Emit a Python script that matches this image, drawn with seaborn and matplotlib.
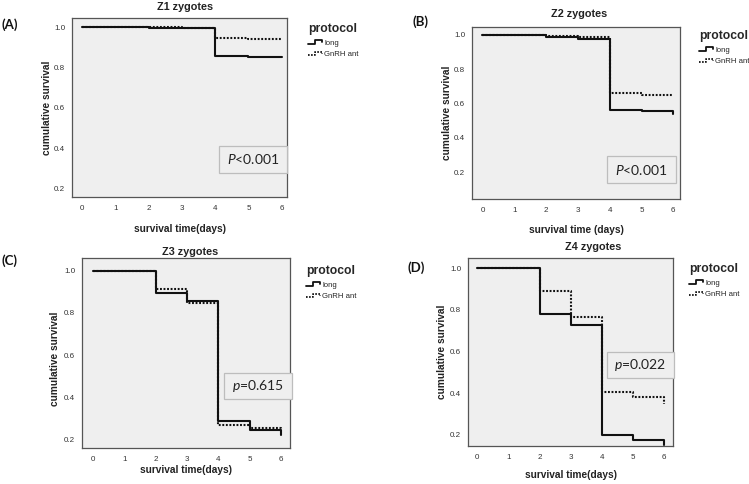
import numpy as np
import pandas as pd
import matplotlib
matplotlib.use("Agg")
import matplotlib.pyplot as plt
import seaborn as sns
from matplotlib.legend_handler import HandlerBase
from matplotlib.lines import Line2D
from matplotlib.patches import Rectangle

# ---------------- data ----------------
times = [0, 2, 3, 4, 5, 6]
protocols = ["long", "GnRH ant"]

z1_long = [1.0, 0.998, 0.996, 0.856, 0.853, 0.852]
z1_gnrh = [1.0, 0.999, 0.998, 0.947, 0.944, 0.943]
z2_long = [1.0, 0.985, 0.977, 0.560, 0.554, 0.538]
z2_gnrh = [1.0, 0.994, 0.985, 0.663, 0.651, 0.650]
z3_long = [1.0, 0.895, 0.854, 0.286, 0.245, 0.222]
z3_gnrh = [1.0, 0.914, 0.848, 0.269, 0.256, 0.250]
z4_long = [1.0, 0.780, 0.728, 0.201, 0.176, 0.150]
z4_gnrh = [1.0, 0.891, 0.765, 0.407, 0.381, 0.349]

panel_titles = ["Z1 zygotes", "Z2 zygotes", "Z3 zygotes", "Z4 zygotes"]
panel_letters = ["(A)", "(B)", "(C)", "(D)"]
p_letters = ["P", "P", "p", "p"]
p_values = ["<0.001", "<0.001", "=0.615", "=0.022"]
x_labels = ["survival time(days)", "survival time (days)",
            "survival time(days)", "survival time(days)"]
y_label = "cumulative survival"
x_ticks = [0, 1, 2, 3, 4, 5, 6]
y_ticks = [0.2, 0.4, 0.6, 0.8, 1.0]
y_tick_labels = ["0.2", "0.4", "0.6", "0.8", "1.0"]

series = [(z1_long, z1_gnrh), (z2_long, z2_gnrh),
          (z3_long, z3_gnrh), (z4_long, z4_gnrh)]

# ---------------- layout (pixels) ----------------
W, H = 749, 484
axes_px = [(72, 18, 287, 197), (472, 27, 680, 199),
           (82, 258, 290, 448), (468, 258, 673, 446)]
xlims = [(-0.31, 6.16), (-0.33, 6.21), (-0.35, 6.28), (-0.30, 6.29)]
ylims = [(0.157, 1.046), (0.045, 1.044), (0.16, 1.06), (0.147, 1.048)]
title_px = [(185, 7), (579, 14), (190, 252), (593, 247)]
letter_px = [(1, 25), (412, 22), (2, 261), (408, 268)]
legend_px = [(308, 23), (699, 30), (306, 265), (689, 263)]
pbox_px = [(219, 146, 287, 173), (607, 156, 676, 183),
           (224, 373, 292, 399), (607, 352, 674, 378)]
ylabel_pos = [(-0.118, 0.5), (-0.122, 0.5), (-0.128, 0.47), (-0.128, 0.5)]
xlabel_pos = [(0.5, -0.179), (0.5, -0.18), (0.5, -0.116), (0.5, -0.154)]

sns.set_style("white")
plt.rcParams["font.family"] = ["Liberation Sans", "DejaVu Sans"]
plt.rcParams["mathtext.fontset"] = "custom"
plt.rcParams["mathtext.it"] = "Lato:italic"
plt.rcParams["mathtext.rm"] = "Lato"

LINE_C = "#111111"
BG = "#efefef"


class StepHandler(HandlerBase):
    def create_artists(self, legend, orig_handle, xdescent, ydescent,
                       width, height, fontsize, trans):
        fx = np.array([0.0, 0.45, 0.45, 0.88, 0.88])
        fy = np.array([0.2, 0.2, 0.85, 0.85, 0.45])
        line = Line2D(fx * width - xdescent, fy * height - ydescent)
        self.update_prop(line, orig_handle, legend)
        line.set_transform(trans)
        return [line]


fig = plt.figure(figsize=(W / 100, H / 100), dpi=100)
fig.patch.set_facecolor("white")


def fxy(x, y):
    return x / W, 1 - y / H


for i in range(4):
    l, t, r, b = axes_px[i]
    ax = fig.add_axes([l / W, 1 - b / H, (r - l) / W, (b - t) / H])
    ax.set_facecolor(BG)
    lv, gv = series[i]
    df = pd.DataFrame({
        "time": times + times,
        "survival": lv + gv,
        "protocol": [protocols[0]] * len(times) + [protocols[1]] * len(times),
    })
    sns.lineplot(data=df, x="time", y="survival", hue="protocol",
                 style="protocol", hue_order=protocols, style_order=protocols,
                 palette={protocols[0]: LINE_C, protocols[1]: LINE_C},
                 dashes={protocols[0]: "", protocols[1]: (0.9, 0.8)},
                 drawstyle="steps-post", estimator=None, legend=False,
                 linewidth=1.5, ax=ax)
    ax.set_xlim(*xlims[i])
    ax.set_ylim(*ylims[i])
    ax.set_xticks(x_ticks)
    ax.set_xticklabels([str(v) for v in x_ticks])
    ax.set_yticks(y_ticks)
    ax.set_yticklabels(y_tick_labels)
    ax.tick_params(direction="out", length=3, width=0.8, colors="#444444",
                   labelsize=5.8, labelcolor="#333333", pad=2)
    ax.tick_params(axis="x", pad=3)
    for s in ax.spines.values():
        s.set_color("#555555")
        s.set_linewidth(0.9)
    ax.set_xlabel(x_labels[i], fontsize=7.3, fontweight="bold", color="#222222")
    ax.set_ylabel(y_label, fontsize=7.3, fontweight="bold", color="#222222")
    ax.xaxis.set_label_coords(*xlabel_pos[i])
    ax.yaxis.set_label_coords(*ylabel_pos[i])
    ax.xaxis.label.set_verticalalignment("center")
    ax.yaxis.label.set_verticalalignment("center")

    # title and panel letter
    tx, ty = fxy(*title_px[i])
    fig.text(tx, ty, panel_titles[i], ha="center", va="center",
             fontsize=7.8, fontweight="bold", color="#222222")
    lx, ly = fxy(*letter_px[i])
    fig.text(lx, ly, panel_letters[i], ha="left", va="center",
             fontsize=9.5, fontweight="bold", color="#111111", family="Lato")

    # legend
    handles = [Line2D([], [], color=LINE_C, linewidth=1.3, linestyle="-"),
               Line2D([], [], color=LINE_C, linewidth=1.3,
                      linestyle=(0, (0.9, 0.8)))]
    gx, gy = fxy(*legend_px[i])
    ax.legend(handles, protocols, handler_map={Line2D: StepHandler()},
              title="protocol", loc="upper left", bbox_to_anchor=(gx, gy),
              bbox_transform=fig.transFigure, frameon=False,
              prop={"family": "Liberation Sans", "size": 5.6},
              title_fontproperties={"family": "Liberation Sans",
                                    "weight": "bold", "size": 8.7},
              alignment="left", handlelength=2.0, handletextpad=0.1,
              borderpad=0, borderaxespad=0, labelspacing=0.55)

    # p-value box
    x0, y0, x1, y1 = pbox_px[i]
    fx0, fy1 = fxy(x0, y1)
    rect = Rectangle((fx0, fy1), (x1 - x0) / W, (y1 - y0) / H,
                     transform=fig.transFigure, facecolor=BG,
                     edgecolor="#bdbdbd", linewidth=0.9, zorder=5)
    fig.add_artist(rect)
    cx, cy = fxy((x0 + x1) / 2, (y0 + y1) / 2)
    fig.text(cx, cy, r"$\mathit{" + p_letters[i] + "}$" + p_values[i],
             ha="center", va="center", fontsize=10, family="Lato",
             color="#222222", zorder=6)

fig.savefig("out.png", dpi=100)
